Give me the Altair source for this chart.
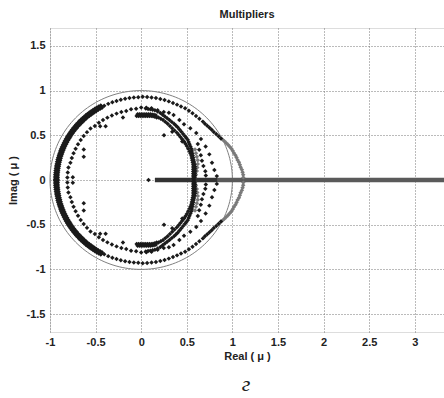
import altair as alt
import numpy as np
import pandas as pd

# ---------------- data ----------------
# Multipliers of a real system come in conjugate pairs: values below are the
# upper half-plane ones (modulus |mu| and argument in degrees, or Re/Im pairs);
# the lower half-plane points are their conjugates.

# dense outer band on the left
band_angle = [118, 119.5, 121, 122.5, 124, 125.5, 127, 128.5, 130, 131.5, 133, 134.5, 136, 137.5,
              139, 140.5, 142, 143.5, 145, 146.5, 148, 149.5, 151, 152.5, 154, 155.5, 157, 158.5,
              160, 161.5, 163, 164.5, 166, 167.5, 169, 170.5, 172, 173.5, 175, 176.5, 178, 179.5]
band_mod = [0.915, 0.93, 0.945]

# outer dotted ring (dark part)
outer_angle = [116, 113, 110, 107, 104, 101, 98, 95, 92, 89, 86, 83, 80, 77, 74, 71, 68, 65, 62,
               59, 56, 53, 50, 47, 44, 42, 40, 38, 36, 34, 32, 30, 28]
outer_mod = [0.925, 0.925, 0.925, 0.925, 0.925, 0.925, 0.925, 0.925, 0.925,
             0.93, 0.93, 0.93, 0.93, 0.93, 0.93, 0.93, 0.93, 0.93, 0.93,
             0.935, 0.935, 0.935, 0.935, 0.935,
             0.94, 0.94, 0.945, 0.95, 0.955, 0.96, 0.97, 0.98, 0.99]

# outer ring, grey part bulging outside the unit circle
grey_angle = [27, 25.5, 24, 22.5, 21, 19.5, 18, 16.5, 15, 13.5, 12, 10.5, 9, 7.5, 6, 4.5, 3, 1.5]
grey_mod = [1.0, 1.01, 1.02, 1.03, 1.04, 1.05, 1.055, 1.06, 1.07, 1.075, 1.08, 1.09, 1.095,
            1.10, 1.11, 1.115, 1.12, 1.12]

# inner dotted ring
inner_angle = [178, 174, 170, 166, 162, 158, 154, 150, 146, 142, 138, 134, 130, 126, 122, 118,
               114, 110, 106, 102, 98, 94, 90, 86, 82, 77, 72, 68, 64, 58, 53, 47, 41, 35, 28,
               21, 14, 8, 3]
inner_mod = [0.81, 0.81, 0.81, 0.80, 0.80, 0.80, 0.80, 0.80, 0.80, 0.80, 0.80, 0.80, 0.79,
             0.79, 0.79, 0.79, 0.79, 0.79, 0.79, 0.79, 0.80, 0.80, 0.81, 0.81, 0.81,
             0.80, 0.80, 0.81, 0.81, 0.79, 0.78, 0.79, 0.80, 0.80, 0.80, 0.80, 0.80, 0.81, 0.83]

# small dotted arc inside, right side
arc_angle = [33, 28, 23, 18, 13, 8, 4]
arc_mod = [0.74, 0.72, 0.71, 0.70, 0.70, 0.71, 0.71]

# dark inner C-shaped curve (Re, Im)
curve_re = [0.05, 0.075, 0.10, 0.125, 0.15, 0.18, 0.21, 0.235, 0.26, 0.285, 0.31, 0.335, 0.36,
            0.38, 0.40, 0.42, 0.44, 0.46, 0.48, 0.495, 0.51, 0.52, 0.53, 0.54, 0.55, 0.555, 0.56,
            0.565, 0.57, 0.575, 0.58, 0.585, 0.59, 0.59, 0.59, 0.59, 0.59, 0.585, 0.58]
curve_im = [0.80, 0.795, 0.79, 0.785, 0.78, 0.765, 0.75, 0.73, 0.71, 0.69, 0.67, 0.65, 0.63,
            0.61, 0.59, 0.565, 0.54, 0.515, 0.49, 0.47, 0.45, 0.425, 0.40, 0.375, 0.35, 0.325,
            0.30, 0.275, 0.25, 0.225, 0.20, 0.175, 0.15, 0.125, 0.10, 0.075, 0.05, 0.03, 0.01]
curve2_re = [0.19, 0.215, 0.24, 0.265, 0.29, 0.315, 0.34, 0.365, 0.39, 0.41, 0.43, 0.45, 0.47,
             0.485, 0.50, 0.515, 0.53, 0.54, 0.55, 0.555, 0.56, 0.565, 0.57, 0.57, 0.57, 0.57,
             0.57, 0.57, 0.57]
curve2_im = [0.70, 0.685, 0.67, 0.65, 0.63, 0.605, 0.58, 0.555, 0.53, 0.505, 0.48, 0.455, 0.43,
             0.405, 0.38, 0.35, 0.32, 0.295, 0.27, 0.245, 0.22, 0.195, 0.17, 0.145, 0.12, 0.095,
             0.07, 0.045, 0.02]
# thick cluster near Im = 0.72
cluster_re = [-0.05, -0.03, -0.01, 0.01, 0.03, 0.05, 0.07, 0.09, 0.11, 0.13, 0.15, 0.17,
              -0.04, -0.02, 0.0, 0.02, 0.04, 0.06, 0.08, 0.10, 0.12, 0.14, 0.16]
cluster_im = [0.715, 0.715, 0.715, 0.715, 0.715, 0.715, 0.715, 0.715, 0.715, 0.712, 0.708, 0.70,
              0.735, 0.735, 0.735, 0.735, 0.735, 0.735, 0.735, 0.735, 0.733, 0.73, 0.725]
# isolated inner points
scatter_re = [-0.75, -0.63, -0.63, -0.45, -0.39, -0.20, 0.25, 0.34, 0.45]
scatter_im = [0.03, 0.34, 0.26, 0.60, 0.60, 0.70, 0.50, 0.54, 0.43]
# grey overlay on the C curve
greyc_re = [0.59, 0.60, 0.61, 0.62, 0.62, 0.615, 0.61, 0.60, 0.59]
greyc_im = [0.34, 0.30, 0.26, 0.22, 0.18, 0.14, 0.10, 0.06, 0.03]

# real multipliers
real_dark = [0.15, 0.22, 0.30, 0.38, 0.45, 0.52, 0.58, 0.64, 0.70, 0.77, 0.84]
real_grey = [0.84, 0.95, 1.08, 1.20, 1.35, 1.50, 1.70, 1.90, 2.10, 2.35, 2.60, 2.85, 3.10, 3.40]
real_single = [0.08]

caption_text = ["г"]

x_ticks = [-1, -0.5, 0, 0.5, 1, 1.5, 2, 2.5, 3]
y_ticks = [-1.5, -1, -0.5, 0, 0.5, 1, 1.5]


# ---------------- tables ----------------
def polar(angles, mods):
    a = np.radians(np.asarray(angles, dtype=float))
    m = np.asarray(mods, dtype=float)
    return m * np.cos(a), m * np.sin(a)


def with_conj(re, im):
    re = np.asarray(re, dtype=float)
    im = np.asarray(im, dtype=float)
    return pd.DataFrame({"re": np.concatenate([re, re]), "im": np.concatenate([im, -im])})


dark_parts = []
for r in band_mod:
    dark_parts.append(with_conj(*polar(band_angle, [r] * len(band_angle))))
dark_parts.append(with_conj(*polar(outer_angle, outer_mod)))
dark_parts.append(with_conj(*polar(inner_angle, inner_mod)))
dark_parts.append(with_conj(*polar(arc_angle, arc_mod)))
dark_parts.append(with_conj(curve_re, curve_im))
dark_parts.append(with_conj(curve2_re, curve2_im))
dark_parts.append(with_conj(cluster_re, cluster_im))
dark_parts.append(with_conj(scatter_re, scatter_im))
dark_parts.append(pd.DataFrame({"re": real_single, "im": [0.0] * len(real_single)}))
dark_df = pd.concat(dark_parts, ignore_index=True)

grey_df = pd.concat([with_conj(*polar(grey_angle, grey_mod)),
                     with_conj(greyc_re, greyc_im)], ignore_index=True)

real_dark_df = pd.DataFrame({"re": real_dark, "im": [0.0] * len(real_dark)})
real_grey_df = pd.DataFrame({"re": real_grey, "im": [0.0] * len(real_grey)})

# unit circle |mu| = 1 (reference curve)
t = np.linspace(0, 2 * np.pi, 181)
circle_df = pd.DataFrame({"re": np.cos(t), "im": np.sin(t), "k": np.arange(len(t))})

# ---------------- chart ----------------
FONT = "Liberation Sans"
lab_expr = "datum.value < 0 ? '-' + format(-datum.value, '~g') : format(datum.value, '~g')"

x_enc = alt.X("re:Q",
              scale=alt.Scale(domain=[-1, 3.32], nice=False, zero=False),
              axis=alt.Axis(values=x_ticks, labelExpr=lab_expr, title="Real ( μ )",
                            grid=True, gridDash=[1, 2], gridColor="#777", gridWidth=1,
                            ticks=False, domain=False, labelFlush=False, labelOverlap=False,
                            labelFont=FONT, labelFontWeight="bold", labelFontSize=11,
                            labelColor="#222", labelPadding=4,
                            titleFont=FONT, titleFontWeight="bold", titleFontSize=11,
                            titleColor="#222", titlePadding=3))
y_enc = alt.Y("im:Q",
              scale=alt.Scale(domain=[-1.7, 1.7], nice=False, zero=False),
              axis=alt.Axis(values=y_ticks, labelExpr=lab_expr, title="Imag ( μ )",
                            grid=True, gridDash=[1, 2], gridColor="#777", gridWidth=1,
                            ticks=False, domain=False, labelFlush=False, labelOverlap=False,
                            labelFont=FONT, labelFontWeight="bold", labelFontSize=11,
                            labelColor="#222", labelPadding=5,
                            titleFont=FONT, titleFontWeight="bold", titleFontSize=11,
                            titleColor="#222", titlePadding=8))

circle = alt.Chart(circle_df).mark_line(color="#808080", strokeWidth=1).encode(
    x=x_enc, y=y_enc, order="k:Q")

real_grey_line = alt.Chart(real_grey_df).mark_line(
    color="#5a5a5a", strokeWidth=4.5, clip=True).encode(x=x_enc, y=y_enc)
real_dark_line = alt.Chart(real_dark_df).mark_line(
    color="#333333", strokeWidth=4.5, clip=True).encode(x=x_enc, y=y_enc)

grey_pts = alt.Chart(grey_df).mark_point(
    shape="diamond", filled=True, size=20, color="#7a7a7a", opacity=1).encode(x=x_enc, y=y_enc)
dark_pts = alt.Chart(dark_df).mark_point(
    shape="diamond", filled=True, size=20, color="#1a1a1a", opacity=1).encode(x=x_enc, y=y_enc)

caption = alt.Chart(pd.DataFrame({"t": caption_text})).mark_text(
    font="Liberation Serif", fontStyle="italic", fontSize=22, color="#222",
    align="center", baseline="middle").encode(
    text="t:N", x=alt.value(196), y=alt.value(356))

chart = alt.layer(circle, real_grey_line, real_dark_line, grey_pts, dark_pts, caption).properties(
    width=394, height=304,
    title=alt.TitleParams("Multipliers", font=FONT, fontSize=11, fontWeight="bold",
                          color="#222", anchor="middle", offset=8),
    autosize=alt.AutoSizeParams(type="none"),
    padding={"left": 50, "top": 28, "right": 0, "bottom": 66},
).configure_view(stroke="#333", strokeWidth=1).configure(background="white")

chart.save("out.html", embed_options={"renderer": "svg", "actions": False})
